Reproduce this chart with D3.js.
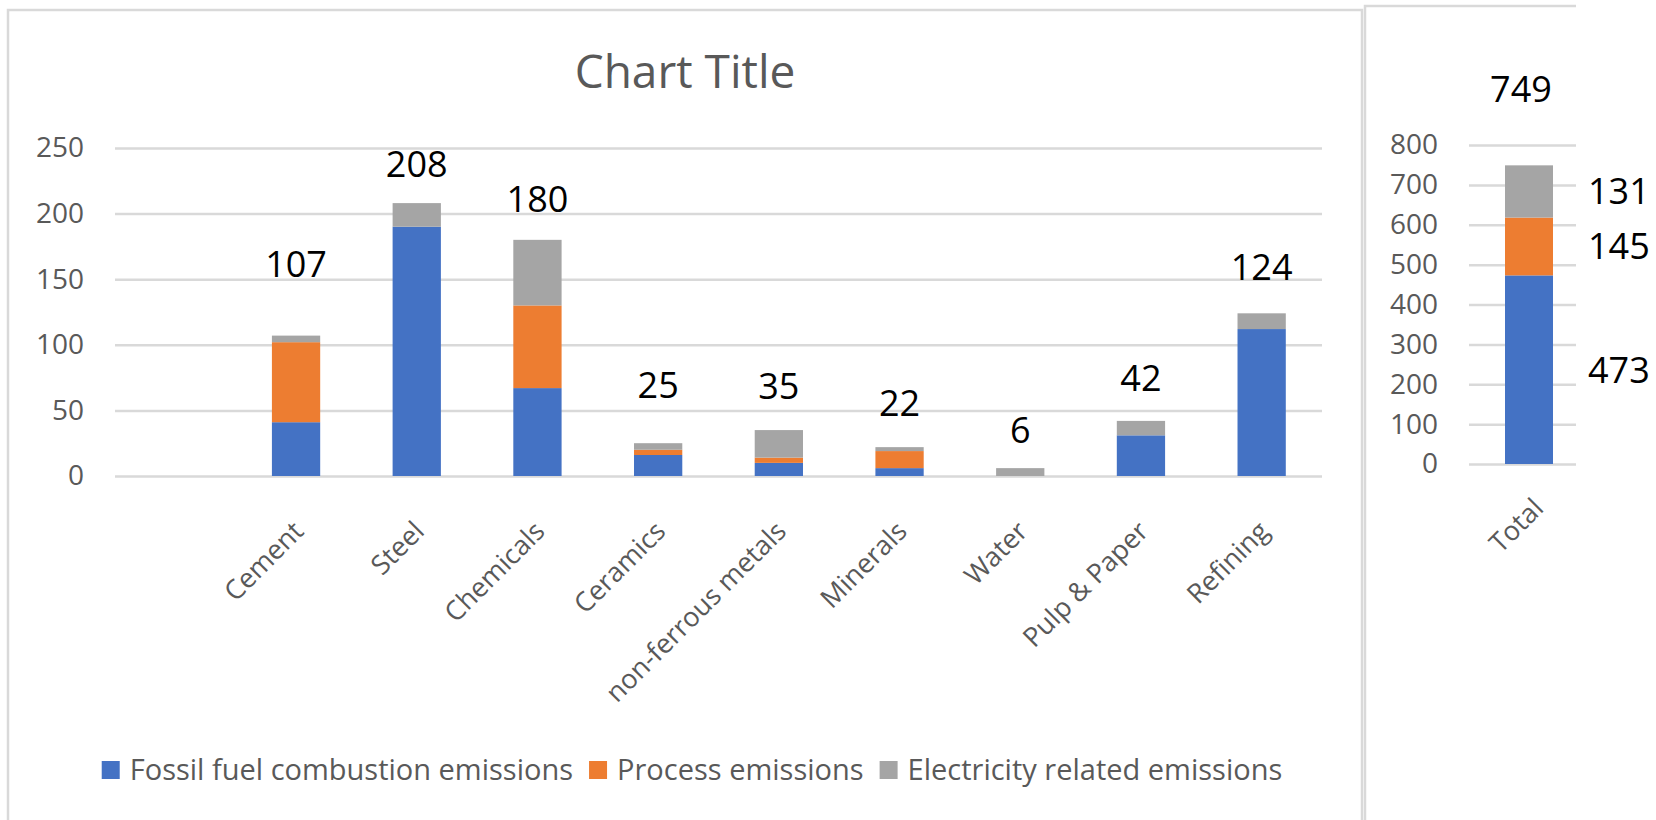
<!DOCTYPE html>
<html>
<head>
<meta charset="utf-8">
<script src="https://cdn.jsdelivr.net/npm/d3@7"></script>
<style>
body { margin: 0; background: #fff; }
text { font-family: "Open Sans", sans-serif; }
</style>
</head>
<body>
<svg id="chart"></svg>
<script>
// data
var sectors = ["Cement", "Steel", "Chemicals", "Ceramics", "non-ferrous metals", "Minerals", "Water", "Pulp & Paper", "Refining"];
var seriesKeys = ["fossil", "process", "electricity"];
var seriesNames = ["Fossil fuel combustion emissions", "Process emissions", "Electricity related emissions"];
var fossil =      [41, 190, 67, 16, 10, 6, 0, 31, 112];
var process =     [61, 0, 63, 4, 4, 13, 0, 0, 0];
var electricity = [5, 18, 50, 5, 21, 3, 6, 11, 12];
var leftTicks = [0, 50, 100, 150, 200, 250];
var rightTicks = [0, 100, 200, 300, 400, 500, 600, 700, 800];
var totalCategory = ["Total"];

var width = 1656;
var height = 820;
var colors = ["#4472C4", "#ED7D31", "#A5A5A5"];
var textGray = "#595959";
var lineGray = "#D9D9D9";

// hand placed label lifts in the reference (px above bar top)
var labelLift = [59, 26, 28, 45, 31, 31, 25, 30, 33];

var svg = d3.select("#chart")
    .attr("width", width)
    .attr("height", height);

svg.append("rect").attr("width", width).attr("height", height).attr("fill", "#fff");

// panel borders
svg.append("path")
    .attr("d", "M8," + (height + 5) + "V10H1362V" + (height + 5))
    .attr("fill", "none").attr("stroke", lineGray).attr("stroke-width", 2.5);
svg.append("path")
    .attr("d", "M1365," + (height + 5) + "V6H1576")
    .attr("fill", "none").attr("stroke", lineGray).attr("stroke-width", 2.5);

var rows = sectors.map(function(s, i) {
    return {sector: s, fossil: fossil[i], process: process[i], electricity: electricity[i]};
});
var stack = d3.stack().keys(seriesKeys);

// ---------- left panel ----------
var x = d3.scaleBand()
    .domain([" "].concat(sectors))
    .range([115, 1322])
    .paddingInner(0.6)
    .paddingOuter(0.3);
var y = d3.scaleLinear().domain([0, 250]).range([476, 148]);

svg.append("text")
    .attr("x", 685)
    .attr("y", 88)
    .attr("text-anchor", "middle")
    .style("font-size", "46px")
    .style("fill", textGray)
    .text("Chart Title");

var yAxis = svg.append("g")
    .attr("transform", "translate(115,0)")
    .call(d3.axisLeft(y).tickValues(leftTicks).tickSize(-(1322 - 115)).tickPadding(31));
yAxis.select(".domain").remove();
yAxis.selectAll("line").attr("stroke", lineGray).attr("stroke-width", 2.5);
yAxis.selectAll("text").style("font-size", "28px").style("fill", textGray).attr("font-family", null);

var xAxis = svg.append("g")
    .attr("transform", "translate(0,476)")
    .call(d3.axisBottom(x).tickSize(0));
xAxis.select(".domain").remove();
xAxis.selectAll("text")
    .attr("y", 0).attr("dy", null)
    .attr("text-anchor", "end")
    .attr("transform", "translate(9,57) rotate(-45)")
    .attr("font-family", null)
    .style("font-size", "27px")
    .style("fill", textGray);

svg.append("g").selectAll("g")
    .data(stack(rows))
    .join("g")
    .attr("fill", function(d, i) { return colors[i]; })
    .selectAll("rect")
    .data(function(d) { return d.filter(function(p) { return p[1] > p[0]; }); })
    .join("rect")
    .attr("x", function(d) { return x(d.data.sector); })
    .attr("y", function(d) { return y(d[1]); })
    .attr("width", x.bandwidth())
    .attr("height", function(d) { return y(d[0]) - y(d[1]); });

svg.append("g").selectAll("text")
    .data(rows)
    .join("text")
    .attr("x", function(d) { return x(d.sector) + x.bandwidth() / 2; })
    .attr("y", function(d, i) { return y(d.fossil + d.process + d.electricity) - labelLift[i]; })
    .attr("text-anchor", "middle")
    .style("font-size", "36px")
    .style("fill", "#000")
    .text(function(d) { return d.fossil + d.process + d.electricity; });

// ---------- right panel (totals) ----------
var totals = {
    sector: "Total",
    fossil: d3.sum(fossil),
    process: d3.sum(process),
    electricity: d3.sum(electricity)
};
var xt = d3.scaleBand().domain(totalCategory).range([1469, 1589]).paddingInner(0.6).paddingOuter(0.3);
var yt = d3.scaleLinear().domain([0, 800]).range([464, 145]);

var ytAxis = svg.append("g")
    .attr("transform", "translate(1469,0)")
    .call(d3.axisLeft(yt).tickValues(rightTicks).tickSize(-(1576 - 1469)).tickPadding(31));
ytAxis.select(".domain").remove();
ytAxis.selectAll("line").attr("stroke", lineGray).attr("stroke-width", 2.5);
ytAxis.selectAll("text").style("font-size", "28px").style("fill", textGray).attr("font-family", null);

var xtAxis = svg.append("g")
    .attr("transform", "translate(0,464)")
    .call(d3.axisBottom(xt).tickSize(0));
xtAxis.select(".domain").remove();
xtAxis.selectAll("text")
    .attr("y", 0).attr("dy", null)
    .attr("text-anchor", "end")
    .attr("transform", "translate(16,46) rotate(-45)")
    .attr("font-family", null)
    .style("font-size", "27px")
    .style("fill", textGray);

var totalStack = stack([totals]);
svg.append("g").selectAll("rect")
    .data(totalStack)
    .join("rect")
    .attr("fill", function(d, i) { return colors[i]; })
    .attr("x", xt("Total"))
    .attr("y", function(d) { return yt(d[0][1]); })
    .attr("width", xt.bandwidth())
    .attr("height", function(d) { return yt(d[0][0]) - yt(d[0][1]); });

svg.append("g").selectAll("text")
    .data(totalStack)
    .join("text")
    .attr("x", 1588)
    .attr("y", function(d) { return yt((d[0][0] + d[0][1]) / 2) + 13; })
    .style("font-size", "36px")
    .style("fill", "#000")
    .text(function(d) { return d[0][1] - d[0][0]; });

var grand = totals.fossil + totals.process + totals.electricity;
svg.append("text")
    .attr("x", xt("Total") + xt.bandwidth() / 2 - 8)
    .attr("y", yt(grand) - 63)
    .attr("text-anchor", "middle")
    .style("font-size", "36px")
    .style("fill", "#000")
    .text(grand);

// ---------- legend ----------
var legend = svg.append("g");
var lx = 0;
seriesNames.forEach(function(name, i) {
    var item = legend.append("g").attr("transform", "translate(" + lx + ",0)");
    item.append("rect")
        .attr("x", 0).attr("y", 761)
        .attr("width", 18).attr("height", 18)
        .attr("fill", colors[i]);
    var t = item.append("text")
        .attr("x", 28).attr("y", 780)
        .style("font-size", "29px")
        .style("fill", textGray)
        .text(name);
    lx += 28 + t.node().getComputedTextLength() + 16;
});
legend.attr("transform", "translate(" + (692 - (lx - 16) / 2) + ",0)");
</script>
</body>
</html>
